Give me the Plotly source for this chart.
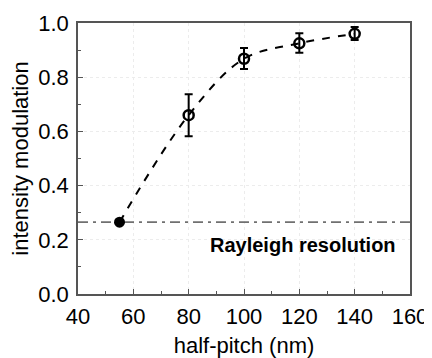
import plotly.graph_objects as go

half_pitch = [55, 80, 100, 120, 140]
modulation = [0.265, 0.66, 0.868, 0.925, 0.96]
err_plus = [0.0, 0.077, 0.04, 0.037, 0.025]
err_minus = [0.0, 0.078, 0.038, 0.035, 0.023]
rayleigh_level = 0.265
x_range = [40, 160]
y_range = [0.0, 1.0]
x_ticks = [40, 60, 80, 100, 120, 140, 160]
y_ticks = [0.0, 0.2, 0.4, 0.6, 0.8, 1.0]

font = "Liberation Sans, Arial, sans-serif"
fig = go.Figure()

# Rayleigh resolution line
fig.add_trace(go.Scatter(
    x=x_range, y=[rayleigh_level, rayleigh_level], mode="lines",
    line=dict(color="#707070", width=1.8, dash="10px,5px,3px,5px"),
    hoverinfo="skip", showlegend=False))

# smooth dashed curve through the points
fig.add_trace(go.Scatter(
    x=half_pitch, y=modulation, mode="lines",
    line=dict(color="black", width=2, dash="8px,8px", shape="spline", smoothing=1.0),
    showlegend=False))

# open points with error bars
fig.add_trace(go.Scatter(
    x=half_pitch[1:], y=modulation[1:], mode="markers",
    marker=dict(symbol="circle-open", size=10, color="black", line=dict(width=2.5)),
    error_y=dict(type="data", symmetric=False, array=err_plus[1:], arrayminus=err_minus[1:],
                 color="black", thickness=2, width=4),
    showlegend=False))

# filled point
fig.add_trace(go.Scatter(
    x=half_pitch[:1], y=modulation[:1], mode="markers",
    marker=dict(symbol="circle", size=11, color="black"),
    showlegend=False))

fig.add_annotation(x=155.5, y=0.18, text="<b>Rayleigh resolution</b>", showarrow=False,
                   xanchor="right", yanchor="middle",
                   font=dict(family=font, size=20, color="black"))

axis_common = dict(
    showline=True, linecolor="#555555", linewidth=1.5, mirror=True,
    ticks="inside", ticklen=5, tickwidth=1.2, tickcolor="#555555",
    showgrid=True, gridcolor="#ececec", griddash="dot", gridwidth=1,
    zeroline=False, automargin=False,
    tickfont=dict(family=font, size=22, color="black"),
)

fig.update_xaxes(range=x_range, tickvals=x_ticks, ticktext=[str(v) for v in x_ticks],
                 minor=dict(ticks="inside", ticklen=3, tickcolor="#555555", dtick=10, showgrid=False),
                 ticklabelstandoff=2,
                 title=dict(text="half-pitch (nm)", font=dict(family=font, size=22, color="black"), standoff=19),
                 **axis_common)
fig.update_yaxes(range=y_range, tickvals=y_ticks, ticktext=[f"{v:.1f}" for v in y_ticks],
                 minor=dict(ticks="inside", ticklen=3, tickcolor="#555555", dtick=0.1, showgrid=False),
                 ticklabelstandoff=3,
                 title=dict(text="intensity modulation", font=dict(family=font, size=22, color="black"), standoff=12),
                 **axis_common)

fig.update_layout(width=424, height=350, margin=dict(l=70, r=22, t=15, b=64),
                  plot_bgcolor="white", paper_bgcolor="white", showlegend=False)

fig.write_html("out.html")
